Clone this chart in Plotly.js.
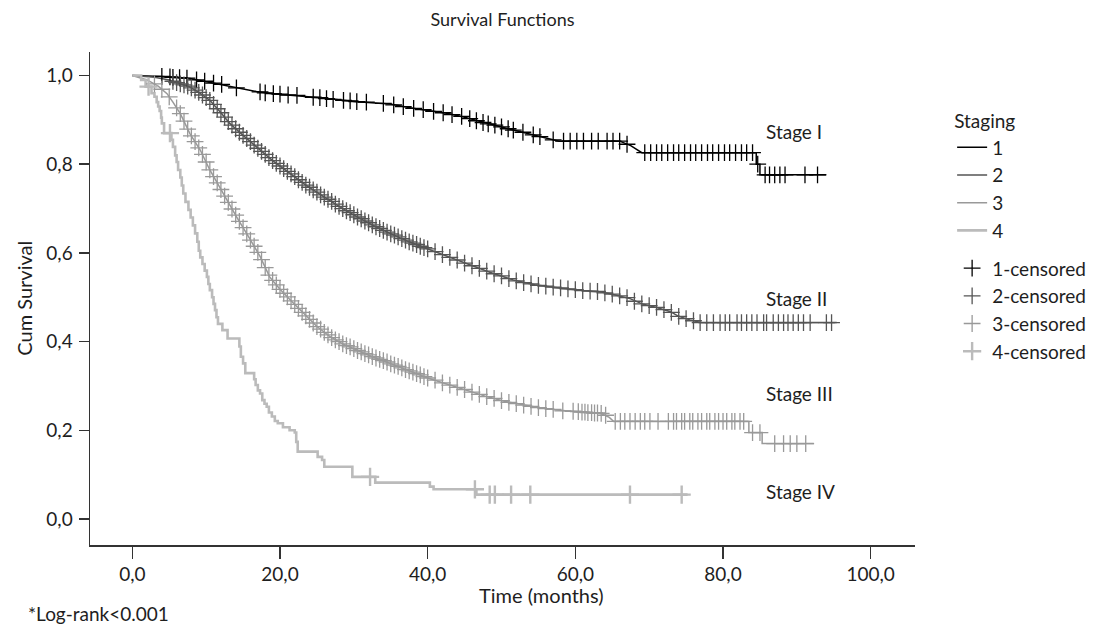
<!DOCTYPE html>
<html>
<head>
<meta charset="utf-8">
<script src="https://cdn.plot.ly/plotly-3.0.1.min.js"></script>
<style>
  html, body { margin: 0; padding: 0; background: #fff; }
  #chart { width: 1098px; height: 626px; }
</style>
</head>
<body>
<div id="chart"></div>
<script>
// ---------------- DATA ----------------
const stageNames = ["1", "2", "3", "4"];
const censorNames = ["1-censored", "2-censored", "3-censored", "4-censored"];
const stageLabels = ["Stage I", "Stage II", "Stage III", "Stage IV"];
const stageLabelY = [0.873, 0.498, 0.284, 0.063];
const xTickVals = [0, 20, 40, 60, 80, 100];
const yTickVals = [0, 0.2, 0.4, 0.6, 0.8, 1.0];

// Stage I survival curve
const time1 = [0, 4, 7.8, 10, 12.3, 14.5, 16.8, 19, 21.4, 25.8, 30.4, 34.9, 38, 42.6, 45, 47.1, 49.5, 51.6, 55.2, 57.8, 66, 67.5, 69, 84.5, 84.5, 85, 85, 94];
const surv1 = [1.0, 0.998, 0.993, 0.986, 0.979, 0.971, 0.964, 0.959, 0.956, 0.949, 0.941, 0.936, 0.926, 0.915, 0.906, 0.896, 0.886, 0.877, 0.862, 0.852, 0.852, 0.842, 0.826, 0.826, 0.80, 0.80, 0.776, 0.776];

// Stage II survival curve
const time2 = [0, 3, 5, 7.8, 9, 10.5, 12, 13.2, 15, 16.8, 19, 21.4, 23.5, 25.9, 28, 30.4, 32.5, 34.9, 37.5, 40.3, 43, 45.7, 48.5, 51.6, 54.5, 57.8, 61, 63.5, 65, 67.4, 69.2, 71, 72.8, 74, 75.5, 77, 95.4];
const surv2 = [1.0, 0.996, 0.99, 0.974, 0.962, 0.944, 0.916, 0.892, 0.865, 0.839, 0.808, 0.779, 0.753, 0.727, 0.705, 0.682, 0.663, 0.644, 0.625, 0.607, 0.59, 0.573, 0.556, 0.539, 0.528, 0.521, 0.515, 0.512, 0.507, 0.497, 0.484, 0.477, 0.468, 0.457, 0.449, 0.443, 0.443];

// Stage III survival curve
const time3 = [0, 2, 3.5, 4.7, 5.5, 6.5, 7.8, 9.2, 10.5, 12.3, 14.1, 15.9, 17.3, 18.6, 20, 21.4, 23.6, 25, 26.8, 28.5, 30.4, 32.5, 34.9, 37.5, 40.2, 43, 45.5, 48, 50.5, 53, 55.5, 57.8, 61, 63.5, 64.6, 65.2, 83.5, 83.5, 85.3, 85.3, 92.3];
const surv3 = [1.0, 0.99, 0.976, 0.959, 0.94, 0.914, 0.869, 0.832, 0.787, 0.734, 0.682, 0.632, 0.592, 0.546, 0.518, 0.494, 0.456, 0.434, 0.411, 0.395, 0.381, 0.366, 0.351, 0.334, 0.317, 0.302, 0.289, 0.276, 0.265, 0.257, 0.25, 0.245, 0.241, 0.238, 0.229, 0.22, 0.22, 0.195, 0.195, 0.17, 0.17];

// Stage IV survival curve (step function)
const time4 = [0, 1.2, 1.8, 2.6, 3.0, 3.3, 3.5, 3.7, 3.9, 4.0,
  4.3, 5.3, 5.5, 5.8, 6.0, 6.2, 6.5, 6.7, 6.9, 7.2,
  7.6, 7.9, 8.2, 8.5, 8.8, 9.0, 9.2, 9.5, 9.8, 10.1,
  10.3, 10.5, 10.8, 11.0, 11.2, 11.4, 11.6, 12.2, 12.9, 14.5,
  14.7, 15.0, 15.3, 16.5, 16.7, 17.0, 17.3, 17.6, 17.9, 18.2,
  18.5, 18.9, 19.3, 19.7, 20.4, 21.3, 22.0, 22.2, 22.4, 25.1,
  25.7, 26.0, 29.8, 32.9, 40.3, 40.8, 46.6, 75.2];
const surv4 = [1.0, 0.99, 0.975, 0.96, 0.952, 0.94, 0.93, 0.92, 0.905, 0.892,
  0.87, 0.855, 0.839, 0.82, 0.805, 0.787, 0.77, 0.752, 0.734, 0.715,
  0.697, 0.68, 0.662, 0.644, 0.625, 0.605, 0.59, 0.575, 0.56, 0.546,
  0.53, 0.516, 0.5, 0.485, 0.471, 0.455, 0.44, 0.426, 0.407, 0.389,
  0.366, 0.351, 0.329, 0.315, 0.302, 0.29, 0.283, 0.268, 0.26, 0.253,
  0.24, 0.231, 0.221, 0.216, 0.207, 0.2, 0.195, 0.174, 0.152, 0.14,
  0.133, 0.118, 0.095, 0.082, 0.073, 0.067, 0.055, 0.055];

// Censored observations (time, survival)
const censT1 = [4.0, 5.1, 5.5, 6.4, 7.4, 8.7, 9.8, 11.0, 12.1, 14.1,
  17.3, 18.0, 19.1, 20.0, 21.1, 22.3, 24.5, 25.4, 26.3, 27.2,
  28.6, 29.5, 30.4, 31.7, 34.0, 35.4, 36.7, 38.1, 39.4, 40.8,
  42.1, 43.3, 44.6, 45.7, 46.6, 47.5, 48.2, 49.1, 50.0, 50.9,
  51.6, 52.9, 54.3, 55.2, 57.0, 58.4, 59.3, 60.2, 61.1, 62.2,
  63.1, 64.3, 65.1, 66.0, 67.0, 69.4, 70.2, 71.0, 71.7, 72.5,
  73.3, 74.0, 74.8, 75.6, 76.3, 77.1, 77.9, 78.6, 79.4, 80.2,
  80.9, 81.7, 82.5, 83.2, 84.0, 84.7, 85.7, 86.3, 87.0, 87.7,
  88.4, 91.1, 92.8];
const censS1 = [0.998, 0.997, 0.996, 0.995, 0.994, 0.99, 0.987, 0.983, 0.98, 0.972,
  0.963, 0.961, 0.959, 0.958, 0.956, 0.955, 0.951, 0.95, 0.948, 0.946,
  0.944, 0.943, 0.941, 0.94, 0.937, 0.934, 0.93, 0.926, 0.923, 0.919,
  0.916, 0.912, 0.908, 0.903, 0.898, 0.894, 0.891, 0.888, 0.884, 0.88,
  0.877, 0.872, 0.866, 0.862, 0.855, 0.852, 0.852, 0.852, 0.852, 0.852,
  0.852, 0.852, 0.852, 0.852, 0.845, 0.826, 0.826, 0.826, 0.826, 0.826,
  0.826, 0.826, 0.826, 0.826, 0.826, 0.826, 0.826, 0.826, 0.826, 0.826,
  0.826, 0.826, 0.826, 0.826, 0.826, 0.80, 0.776, 0.776, 0.776, 0.776,
  0.776, 0.776, 0.776];

const censT2 = [5.5, 6.0, 6.5, 7.0, 7.5, 8.0, 8.5, 9.0, 9.5, 10.0,
  10.5, 11.0, 11.5, 12.0, 12.5, 13.0, 13.5, 14.0, 14.5, 15.0,
  15.5, 16.0, 16.5, 17.0, 17.5, 18.0, 18.5, 19.0, 19.5, 20.0,
  20.5, 21.0, 21.5, 22.0, 22.5, 23.0, 23.5, 24.0, 24.5, 25.0,
  25.5, 26.0, 26.5, 27.0, 27.5, 28.0, 28.5, 29.0, 29.5, 30.0,
  30.5, 31.0, 31.5, 32.0, 32.5, 33.0, 33.5, 34.0, 34.5, 35.0,
  35.5, 36.0, 36.5, 37.0, 37.5, 38.0, 38.5, 39.0, 39.5, 40.0,
  41, 42, 43, 44, 45, 46, 47, 48, 49, 50,
  51, 52, 53, 54, 55, 56, 57, 58, 59, 60,
  61, 62, 63, 64, 65, 66, 67, 68, 69, 70,
  71, 72, 73, 74, 75, 76, 76.9, 77.8, 78.7, 79.6,
  80.3, 80.9, 81.9, 82.5, 83.2, 83.9, 84.6, 85.5, 85.9, 86.8,
  87.5, 88.2, 88.8, 89.5, 90.2, 90.9, 91.8, 94.0, 94.7];
const censS2 = [0.987, 0.984, 0.981, 0.979, 0.976, 0.972, 0.967, 0.962, 0.956, 0.95,
  0.944, 0.935, 0.925, 0.916, 0.906, 0.896, 0.888, 0.88, 0.872, 0.865,
  0.858, 0.851, 0.843, 0.836, 0.829, 0.822, 0.815, 0.808, 0.802, 0.796,
  0.79, 0.784, 0.778, 0.772, 0.765, 0.759, 0.753, 0.748, 0.742, 0.737,
  0.731, 0.726, 0.721, 0.716, 0.71, 0.705, 0.7, 0.695, 0.691, 0.686,
  0.681, 0.677, 0.672, 0.668, 0.663, 0.659, 0.655, 0.651, 0.647, 0.643,
  0.64, 0.636, 0.632, 0.629, 0.625, 0.622, 0.619, 0.615, 0.612, 0.609,
  0.603, 0.596, 0.59, 0.584, 0.577, 0.571, 0.565, 0.559, 0.553, 0.548,
  0.542, 0.537, 0.533, 0.53, 0.527, 0.525, 0.523, 0.521, 0.519, 0.517,
  0.515, 0.514, 0.513, 0.51, 0.507, 0.503, 0.499, 0.491, 0.485, 0.481,
  0.477, 0.472, 0.466, 0.457, 0.452, 0.447, 0.443, 0.443, 0.443, 0.443,
  0.443, 0.443, 0.443, 0.443, 0.443, 0.443, 0.443, 0.443, 0.443, 0.443,
  0.443, 0.443, 0.443, 0.443, 0.443, 0.443, 0.443, 0.443, 0.443];

const censT3 = [3.0, 4.0, 5.0, 6.0, 6.5, 7.0, 7.5, 8.0, 8.5, 9.0,
  9.5, 10.0, 10.5, 11.0, 11.5, 12.0, 12.5, 13.0, 13.5, 14.0,
  14.5, 15.0, 15.5, 16.0, 16.5, 17.0, 17.5, 18.0, 18.5, 19.0,
  19.5, 20.0, 20.5, 21.0, 21.5, 22.0, 22.5, 23.0, 23.5, 24.0,
  24.5, 25.0, 25.5, 26.0, 26.5, 27.0, 27.5, 28.0, 28.5, 29.0,
  29.5, 30.0, 30.5, 31.0, 31.5, 32.0, 32.5, 33.0, 33.5, 34.0,
  34.5, 35.0, 35.5, 36.0, 36.5, 37.0, 37.5, 38.0, 38.5, 39.0,
  39.5, 40.0, 41.0, 42.0, 43.0, 44.0, 45.0, 46.0, 47.0, 48.0,
  49.0, 50.0, 51.0, 52.0, 53.0, 54.0, 55.0, 56.0, 57.0, 58.3,
  59.7, 60.4, 60.9, 61.3, 61.7, 62.2, 62.6, 63.0, 63.5, 64.1,
  65.4, 66.1, 66.7, 67.4, 68.1, 68.8, 69.4, 70.1, 71.2, 72.6,
  73.3, 73.7, 74.4, 74.8, 75.5, 75.9, 76.6, 77.1, 77.8, 78.2,
  78.9, 79.4, 80.0, 80.5, 81.2, 81.6, 82.3, 82.8, 84.0, 85.0,
  87.0, 88.2, 89.1, 90.0, 91.2];
const censS3 = [0.981, 0.969, 0.952, 0.927, 0.914, 0.897, 0.879, 0.864, 0.851, 0.837,
  0.822, 0.805, 0.787, 0.772, 0.758, 0.743, 0.728, 0.714, 0.699, 0.685,
  0.671, 0.657, 0.643, 0.629, 0.615, 0.601, 0.585, 0.567, 0.55, 0.538,
  0.528, 0.518, 0.509, 0.501, 0.492, 0.484, 0.475, 0.466, 0.458, 0.45,
  0.442, 0.434, 0.428, 0.421, 0.415, 0.409, 0.404, 0.4, 0.395, 0.391,
  0.388, 0.384, 0.38, 0.377, 0.373, 0.37, 0.366, 0.363, 0.36, 0.357,
  0.354, 0.35, 0.347, 0.344, 0.341, 0.337, 0.334, 0.331, 0.328, 0.325,
  0.321, 0.318, 0.313, 0.307, 0.302, 0.297, 0.292, 0.286, 0.281, 0.276,
  0.272, 0.267, 0.263, 0.26, 0.257, 0.254, 0.251, 0.249, 0.247, 0.244,
  0.243, 0.242, 0.241, 0.241, 0.24, 0.24, 0.239, 0.239, 0.238, 0.234,
  0.22, 0.22, 0.22, 0.22, 0.22, 0.22, 0.22, 0.22, 0.22, 0.22,
  0.22, 0.22, 0.22, 0.22, 0.22, 0.22, 0.22, 0.22, 0.22, 0.22,
  0.22, 0.22, 0.22, 0.22, 0.22, 0.22, 0.22, 0.22, 0.195, 0.195,
  0.17, 0.17, 0.17, 0.17, 0.17];

const censT4 = [2.2, 5.1, 32.2, 46.4, 48.4, 49.1, 51.3, 53.9, 67.4, 74.4];
const censS4 = [0.975, 0.87, 0.095, 0.067, 0.055, 0.055, 0.055, 0.055, 0.055, 0.055];

// ---------------- STYLE ----------------
const FONT = "Lato, 'Open Sans', 'DejaVu Sans', sans-serif";
const TXT = "#1e1e1e";
const lineColors = ["#000000", "#555555", "#999999", "#bbbbbb"];
const lineWidths = [1.5, 1.5, 1.5, 2.6];
const markerSizes = [12, 12, 12, 13];
const markerLineWidths = [1.3, 1.3, 1.3, 2.4];

const curveT = [time1, time2, time3, time4];
const curveS = [surv1, surv2, surv3, surv4];
const curveShape = ["linear", "linear", "linear", "hv"];
const censT = [censT1, censT2, censT3, censT4];
const censS = [censS1, censS2, censS3, censS4];

const traces = [];
for (let i = 0; i < 4; i++) {
  traces.push({
    type: "scatter", mode: "lines", name: stageNames[i],
    x: curveT[i], y: curveS[i],
    line: { color: lineColors[i], width: lineWidths[i], shape: curveShape[i] },
    legendgroup: "lines", hoverinfo: "skip"
  });
}
for (let i = 0; i < 4; i++) {
  traces.push({
    type: "scatter", mode: "markers", name: censorNames[i],
    x: censT[i], y: censS[i],
    marker: { symbol: "cross-thin", size: markerSizes[i],
              color: lineColors[i],
              line: { color: lineColors[i], width: markerLineWidths[i] } },
    legendgroup: "cens", hoverinfo: "skip"
  });
}

const annotations = [];
for (let i = 0; i < 4; i++) {
  annotations.push({
    text: stageLabels[i], xref: "x", yref: "y", x: 85.6, y: stageLabelY[i],
    xanchor: "left", yanchor: "middle", showarrow: false,
    font: { family: FONT, size: 19, color: TXT }
  });
}
annotations.push({
  text: "Time (months)", xref: "paper", yref: "paper", x: 0.5467, y: -0.1014,
  xanchor: "center", yanchor: "middle", showarrow: false,
  font: { family: FONT, size: 20, color: TXT }
});
annotations.push({
  text: "Cum Survival", xref: "paper", yref: "paper", x: -0.081, y: 0.5,
  xanchor: "center", yanchor: "middle", textangle: -90, showarrow: false,
  font: { family: FONT, size: 20, color: TXT }
});
annotations.push({
  text: "*Log-rank<0.001", xref: "paper", yref: "paper", x: -0.0776, y: -0.138,
  xanchor: "left", yanchor: "middle", showarrow: false,
  font: { family: FONT, size: 19, color: TXT }
});

const layout = {
  width: 1098, height: 626,
  margin: { l: 90, r: 183, t: 52, b: 81, autoexpand: false },
  paper_bgcolor: "#ffffff", plot_bgcolor: "#ffffff",
  separators: ",.",
  font: { family: FONT, size: 19, color: TXT },
  title: { text: "Survival Functions", x: 0.5, xref: "paper", y: 0.968, yref: "container",
           xanchor: "center", yanchor: "middle", font: { family: FONT, size: 18, color: TXT } },
  xaxis: {
    range: [-5.73, 106.0], tickvals: xTickVals, tickformat: ".1f",
    showgrid: false, zeroline: false, showline: true, linecolor: "#333", linewidth: 1.5,
    ticks: "outside", ticklen: 12, tickwidth: 1.5, tickcolor: "#333",
    ticklabelstandoff: 0, automargin: false,
    tickfont: { family: FONT, size: 19, color: TXT }
  },
  yaxis: {
    range: [-0.0586, 1.053], tickvals: yTickVals, tickformat: ".1f",
    showgrid: false, zeroline: false, showline: true, linecolor: "#333", linewidth: 1.5,
    ticks: "outside", ticklen: 10, tickwidth: 1.5, tickcolor: "#333",
    ticklabelstandoff: 2, automargin: false,
    tickfont: { family: FONT, size: 19, color: TXT }
  },
  showlegend: true,
  legend: {
    x: 1.045, xanchor: "left", y: 0.895, yanchor: "top",
    title: { text: "Staging", font: { family: FONT, size: 19, color: TXT } },
    font: { family: FONT, size: 19, color: TXT },
    tracegroupgap: 10, traceorder: "grouped", bgcolor: "rgba(0,0,0,0)"
  },
  annotations: annotations
};

Plotly.newPlot("chart", traces, layout, { staticPlot: true, displayModeBar: false });
</script>
</body>
</html>
